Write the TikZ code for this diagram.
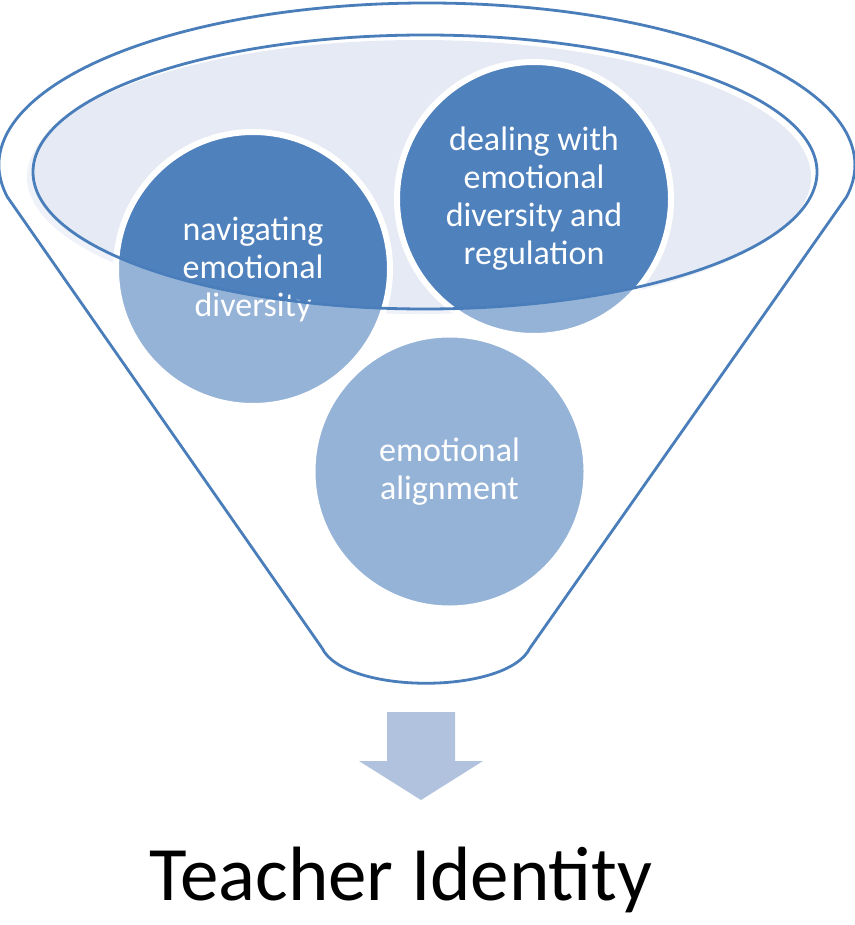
\documentclass[tikz,border=0pt]{standalone}
\usepackage{fontspec}
\setmainfont{Carlito}
\definecolor{accent}{HTML}{4F81BD}
\definecolor{rimline}{HTML}{4A7EBB}
\definecolor{bowl}{HTML}{E5EAF4}
\definecolor{arrowc}{HTML}{B0C2DE}
\tikzset{
  ball/.style={circle, minimum size=274pt, inner sep=0pt, fill=accent, draw=white,
    line width=6pt, text=white, align=center, font=\fontsize{34}{38}\selectfont},
  rim/.style={draw=rimline, line width=2.8pt},
}
\begin{document}
\begin{tikzpicture}[x=1pt,y=-1pt]
\useasboundingbox (0,0) rectangle (854,925);
% corners of the funnel
\coordinate (tl) at (7.4,197);
\coordinate (tr) at (846.6,197);
\coordinate (bl) at (322,648);
\coordinate (br) at (530,648);
% light bowl fill (slightly offset)
\fill[bowl] (419,177) ellipse [x radius=392, y radius=137];
% circles
\node[ball] (c1) at (253,269) {navigating\\emotional\\diversity};
\node[ball] (c2) at (534,199) {dealing with\\emotional\\diversity and\\regulation};
\node[ball] (c3) at (449.5,471.5) {emotional\\alignment};
% translucent funnel body
\fill[white, fill opacity=0.4, even odd rule]
  (tl) arc[start angle=168.6, end angle=371.4, x radius=428, y radius=162]
  -- (br) .. controls (507,695) and (345,695) .. (bl) -- cycle
  (425,172) ellipse [x radius=392, y radius=137];
% outlines
\draw[rim, line join=round]
  (tl) arc[start angle=168.6, end angle=371.4, x radius=428, y radius=162]
  -- (br) .. controls (507,695) and (345,695) .. (bl) -- cycle;
\draw[rim] (425,172) ellipse [x radius=392, y radius=137];
% arrow
\fill[arrowc] (387,712) -- (455,712) -- (455,761) -- (483,761) -- (421,800)
  -- (359,761) -- (387,761) -- cycle;
% result
\node[anchor=base, inner sep=0pt, font=\fontsize{77}{86}\selectfont] (title) at (401,900) {Teacher Identity};
\end{tikzpicture}
\end{document}
